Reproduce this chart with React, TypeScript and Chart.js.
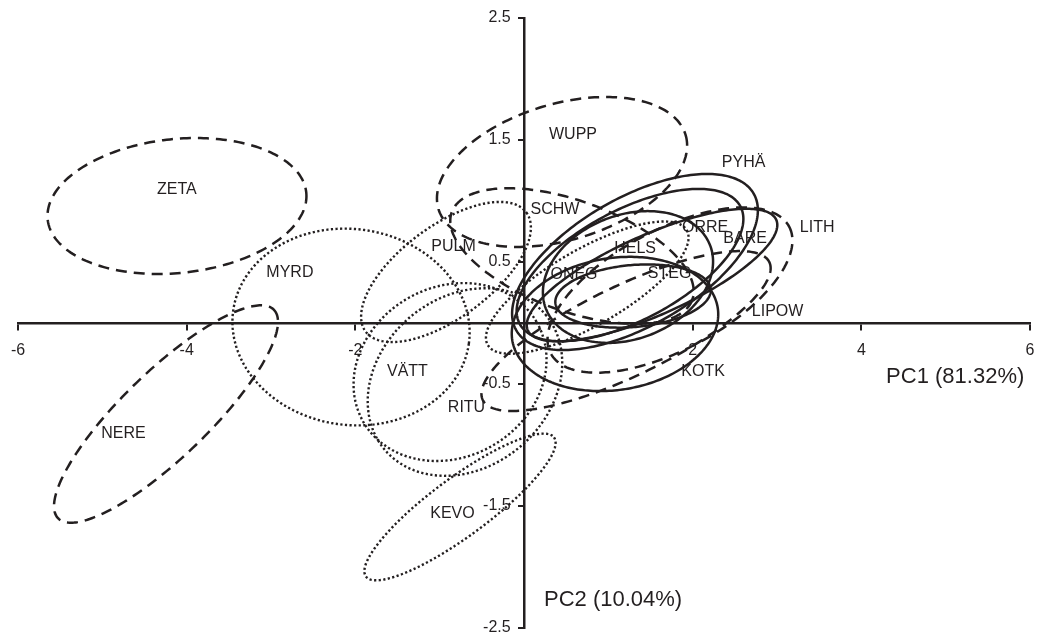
import React, { useEffect, useRef } from 'react';
import { Chart, registerables } from 'chart.js';

Chart.register(...registerables);

// Population ellipses (PCA scores): centre, major and minor semi-axis vectors in PC units
const populations = ['ZETA', 'NERE', 'MYRD', 'PULM', 'VÄTT', 'RITU', 'KEVO', 'WUPP', 'SCHW', 'HELS', 'LITH', 'LIPOW', 'PYHÄ', 'ORRE', 'BARE', 'STEG', 'ONEG', 'KOTK'];
const lineStyles = ['dashed', 'dashed', 'dotted', 'dotted', 'dotted', 'dotted', 'dotted', 'dashed', 'dashed', 'dotted', 'dashed', 'dashed', 'solid', 'solid', 'solid', 'solid', 'solid', 'solid'];
const centerPC1 = [-4.115, -4.245, -2.051, -0.925, -0.700, -0.877, -0.759, 0.451, 0.569, 0.750, 1.731, 1.210, 1.316, 1.257, 1.518, 1.293, 1.233, 1.079];
const centerPC2 = [0.959, -0.746, -0.033, 0.418, -0.484, -0.402, -1.508, 1.238, 0.549, 0.290, 0.270, -0.066, 0.500, 0.475, 0.393, 0.221, 0.377, -0.008];
const majorPC1 = [1.533, 1.280, 1.397, 0.953, 0.954, 1.027, 1.115, 1.465, 1.426, 1.180, 1.413, 1.699, 1.407, 1.309, 1.473, 0.921, 0.974, 1.218];
const majorPC2 = [0.111, 0.854, -0.136, 0.488, 0.553, 0.410, 0.570, 0.304, -0.359, 0.470, 0.520, 0.565, 0.561, 0.481, 0.453, 0.056, 0.259, 0.133];
const minorPC1 = [0.083, 0.354, -0.162, 0.324, 0.648, 0.504, 0.205, 0.232, -0.223, 0.225, 0.334, 0.231, 0.379, 0.306, 0.193, 0.032, 0.263, 0.122];
const minorPC2 = [-0.546, -0.254, -0.795, -0.303, -0.534, -0.603, -0.191, -0.534, -0.424, -0.270, -0.434, -0.332, -0.454, -0.398, -0.300, -0.253, -0.474, -0.534];

// Label positions in PC units
const labelPC1 = [-4.116, -4.749, -2.776, -0.836, -1.382, -0.682, -0.848, 0.581, 0.368, 1.317, 3.476, 3.007, 2.604, 2.147, 2.622, 1.726, 0.593, 2.123];
const labelPC2 = [1.090, -0.910, 0.410, 0.627, -0.398, -0.697, -1.561, 1.541, 0.926, 0.611, 0.779, 0.094, 1.311, 0.783, 0.689, 0.402, 0.393, -0.398];

const xTicks = [-6, -4, -2, 0, 2, 4, 6];
const yTicks = [2.5, 1.5, 0.5, -0.5, -1.5, -2.5];
const xTitle = 'PC1 (81.32%)';
const yTitle = 'PC2 (10.04%)';
const xTitlePos = [5.113, -0.443];
const yTitlePos = [1.056, -2.27];

const INK = '#231f20';
const FONT = '"Liberation Sans", Arial, Helvetica, sans-serif';

const zeroPadding = (s: any) => {
  s.paddingLeft = 0;
  s.paddingRight = 0;
  s.paddingTop = 0;
  s.paddingBottom = 0;
};

const ellipsePlugin = {
  id: 'ellipses',
  afterDatasetsDraw(chart: any) {
    const { ctx } = chart;
    const xs = chart.scales.x;
    const ys = chart.scales.y;
    ctx.save();
    ctx.strokeStyle = INK;
    for (let i = 0; i < populations.length; i++) {
      ctx.beginPath();
      const steps = 240;
      for (let k = 0; k <= steps; k++) {
        const t = (k / steps) * Math.PI * 2;
        const vx = centerPC1[i] + majorPC1[i] * Math.cos(t) + minorPC1[i] * Math.sin(t);
        const vy = centerPC2[i] + majorPC2[i] * Math.cos(t) + minorPC2[i] * Math.sin(t);
        const px = xs.getPixelForValue(vx);
        const py = ys.getPixelForValue(vy);
        if (k === 0) ctx.moveTo(px, py);
        else ctx.lineTo(px, py);
      }
      ctx.closePath();
      const style = lineStyles[i];
      if (style === 'dashed') {
        ctx.setLineDash([11, 7]);
        ctx.lineWidth = 2.5;
        ctx.lineCap = 'butt';
      } else if (style === 'dotted') {
        ctx.setLineDash([2.2, 2.4]);
        ctx.lineWidth = 2.4;
        ctx.lineCap = 'butt';
      } else {
        ctx.setLineDash([]);
        ctx.lineWidth = 2.5;
      }
      ctx.stroke();
    }
    ctx.setLineDash([]);
    ctx.fillStyle = INK;
    ctx.textAlign = 'center';
    ctx.textBaseline = 'middle';
    ctx.font = `16px ${FONT}`;
    for (let i = 0; i < populations.length; i++) {
      ctx.fillText(populations[i], xs.getPixelForValue(labelPC1[i]), ys.getPixelForValue(labelPC2[i]));
    }
    ctx.font = `22px ${FONT}`;
    ctx.fillText(xTitle, xs.getPixelForValue(xTitlePos[0]), ys.getPixelForValue(xTitlePos[1]));
    ctx.fillText(yTitle, xs.getPixelForValue(yTitlePos[0]), ys.getPixelForValue(yTitlePos[1]));
    ctx.restore();
  },
};

export default function App() {
  const canvasRef = useRef<HTMLCanvasElement | null>(null);

  useEffect(() => {
    if (!canvasRef.current) return;
    const chart = new Chart(canvasRef.current, {
      type: 'scatter',
      data: {
        datasets: [
          {
            label: 'centres',
            data: centerPC1.map((v, i) => ({ x: v, y: centerPC2[i] })),
            pointRadius: 0,
            showLine: false,
          },
        ],
      },
      options: {
        animation: false,
        responsive: true,
        maintainAspectRatio: false,
        layout: { padding: { left: 18, right: 9, top: 18, bottom: 8 } },
        plugins: { legend: { display: false }, tooltip: { enabled: false } },
        scales: {
          x: {
            type: 'linear',
            min: -6,
            max: 6,
            position: { y: 0 } as any,
            afterBuildTicks: (s: any) => {
              s.ticks = xTicks.map((v) => ({ value: v }));
            },
            afterFit: zeroPadding,
            grid: { drawOnChartArea: false, drawTicks: true, tickLength: 6, color: INK, lineWidth: 2 },
            border: { display: true, color: INK, width: 2.5 },
            ticks: {
              color: INK,
              font: { family: FONT, size: 16 },
              padding: 12,
              maxRotation: 0,
              autoSkip: false,
              callback: (v: any) => (Number(v) === 0 ? '' : String(v)),
            },
          },
          y: {
            type: 'linear',
            min: -2.5,
            max: 2.5,
            position: { x: 0 } as any,
            afterBuildTicks: (s: any) => {
              s.ticks = yTicks.map((v) => ({ value: v }));
            },
            afterFit: zeroPadding,
            grid: { drawOnChartArea: false, drawTicks: true, tickLength: 5, color: INK, lineWidth: 2 },
            border: { display: true, color: INK, width: 2.5 },
            ticks: {
              color: INK,
              font: { family: FONT, size: 16 },
              padding: 6,
              autoSkip: false,
              callback: (v: any) => String(v) + '   ',
            },
          },
        },
      },
      plugins: [ellipsePlugin],
    });
    return () => chart.destroy();
  }, []);

  return (
    <div style={{ position: 'absolute', left: 0, top: 0, width: 1039, height: 636, background: '#fff' }}>
      <canvas ref={canvasRef} />
    </div>
  );
}
